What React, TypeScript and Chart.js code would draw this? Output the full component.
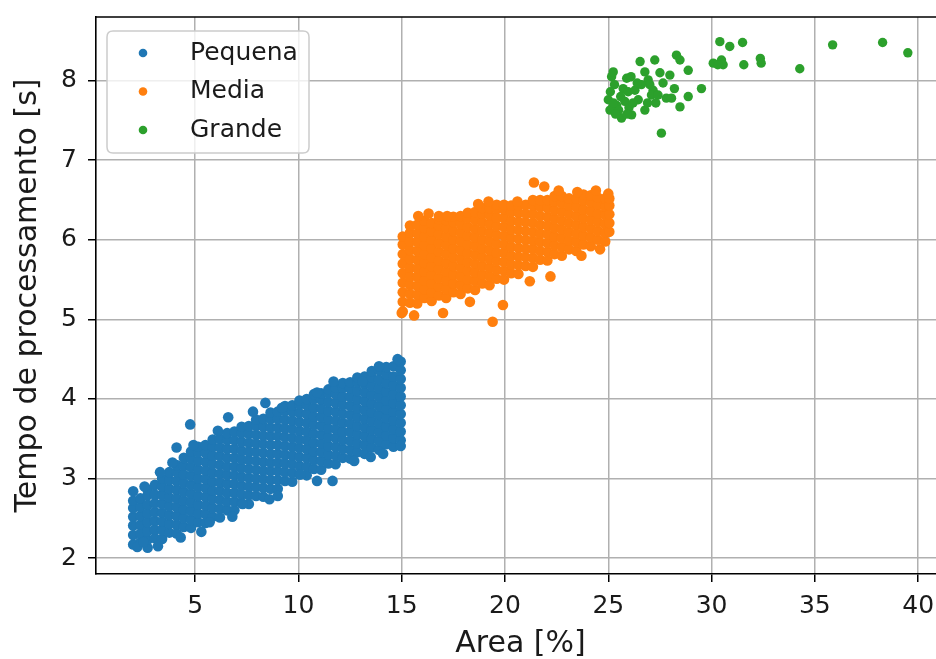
import React, { useEffect, useRef } from "react";
import { Chart, registerables } from "chart.js";

Chart.register(...registerables);

const seriesLabels = ["Pequena", "Media", "Grande"];
const seriesColors = ["#1f77b4", "#ff7f0e", "#2ca02c"];
const seriesRadius = [5.3, 5.3, 4.7];
const xTicks = [5, 10, 15, 20, 25, 30, 35, 40];
const yTicks = [2, 3, 4, 5, 6, 7, 8];
const xLabel = "Area [%]";
const yLabel = "Tempo de processamento [s]";

// Pequena: [area, tempos read at that area]
const pequenaCols: [number, number[]][] = [
  [2.0, [2.17, 2.29, 2.41, 2.52, 2.63, 2.72]],
  [2.35, [2.2, 2.31, 2.42, 2.53, 2.64, 2.75]],
  [2.7, [2.13, 2.23, 2.34, 2.45, 2.56, 2.67, 2.79, 2.86]],
  [3.05, [2.25, 2.36, 2.47, 2.58, 2.69, 2.8, 2.92]],
  [3.4, [2.24, 2.35, 2.46, 2.57, 2.68, 2.79, 2.9, 3.0]],
  [3.75, [2.32, 2.43, 2.54, 2.65, 2.76, 2.87, 2.98, 3.08]],
  [4.1, [2.31, 2.42, 2.53, 2.64, 2.75, 2.86, 2.97, 3.08, 3.17]],
  [4.45, [2.39, 2.5, 2.61, 2.72, 2.83, 2.94, 3.05, 3.16, 3.26]],
  [4.8, [2.38, 2.48, 2.59, 2.7, 2.81, 2.92, 3.03, 3.14, 3.25, 3.34]],
  [5.15, [2.45, 2.56, 2.67, 2.78, 2.89, 3.0, 3.11, 3.22, 3.33, 3.4]],
  [5.5, [2.44, 2.55, 2.66, 2.77, 2.88, 2.99, 3.1, 3.21, 3.32, 3.42]],
  [5.85, [2.52, 2.63, 2.74, 2.85, 2.96, 3.07, 3.18, 3.29, 3.4, 3.49]],
  [6.2, [2.51, 2.62, 2.73, 2.84, 2.95, 3.06, 3.17, 3.28, 3.39, 3.5]],
  [6.55, [2.6, 2.71, 2.82, 2.93, 3.04, 3.15, 3.26, 3.37, 3.48, 3.57]],
  [6.9, [2.6, 2.71, 2.82, 2.93, 3.04, 3.15, 3.26, 3.37, 3.48, 3.59]],
  [7.25, [2.69, 2.8, 2.91, 3.02, 3.13, 3.24, 3.35, 3.46, 3.57, 3.65]],
  [7.6, [2.68, 2.79, 2.9, 3.01, 3.12, 3.23, 3.34, 3.45, 3.56, 3.66]],
  [7.95, [2.78, 2.89, 3.0, 3.11, 3.22, 3.33, 3.44, 3.55, 3.66, 3.74]],
  [8.3, [2.77, 2.88, 2.99, 3.1, 3.21, 3.32, 3.43, 3.54, 3.65, 3.75]],
  [8.65, [2.87, 2.98, 3.09, 3.2, 3.31, 3.42, 3.53, 3.64, 3.75, 3.83]],
  [9.0, [2.87, 2.98, 3.09, 3.2, 3.31, 3.42, 3.53, 3.64, 3.75, 3.84]],
  [9.35, [2.97, 3.08, 3.19, 3.3, 3.41, 3.52, 3.63, 3.74, 3.85, 3.91]],
  [9.7, [2.96, 3.07, 3.18, 3.29, 3.4, 3.51, 3.62, 3.73, 3.84, 3.92]],
  [10.05, [3.05, 3.16, 3.27, 3.38, 3.49, 3.6, 3.71, 3.82, 3.93, 3.98]],
  [10.4, [3.04, 3.15, 3.26, 3.37, 3.48, 3.59, 3.7, 3.81, 3.92, 4.0]],
  [10.75, [3.12, 3.23, 3.34, 3.45, 3.56, 3.67, 3.78, 3.89, 4.0, 4.06]],
  [11.1, [3.11, 3.22, 3.33, 3.44, 3.55, 3.66, 3.77, 3.88, 3.99, 4.07]],
  [11.45, [3.19, 3.3, 3.41, 3.52, 3.63, 3.74, 3.85, 3.96, 4.07, 4.12]],
  [11.8, [3.18, 3.29, 3.4, 3.51, 3.62, 3.73, 3.84, 3.95, 4.06, 4.14]],
  [12.15, [3.26, 3.37, 3.48, 3.59, 3.7, 3.81, 3.92, 4.03, 4.14, 4.2]],
  [12.5, [3.25, 3.36, 3.47, 3.58, 3.69, 3.8, 3.91, 4.02, 4.13, 4.21]],
  [12.85, [3.33, 3.44, 3.55, 3.66, 3.77, 3.88, 3.99, 4.1, 4.21, 4.27]],
  [13.2, [3.31, 3.42, 3.53, 3.64, 3.75, 3.86, 3.97, 4.08, 4.19, 4.28]],
  [13.55, [3.39, 3.5, 3.61, 3.72, 3.83, 3.94, 4.05, 4.16, 4.27, 4.35]],
  [13.9, [3.36, 3.47, 3.58, 3.69, 3.8, 3.91, 4.02, 4.13, 4.24, 4.36]],
  [14.25, [3.43, 3.54, 3.65, 3.76, 3.87, 3.98, 4.09, 4.2, 4.31, 4.4]],
  [14.6, [3.4, 3.51, 3.62, 3.73, 3.84, 3.95, 4.06, 4.17, 4.28, 4.41]],
  [14.95, [3.48, 3.59, 3.7, 3.81, 3.92, 4.03, 4.14, 4.25, 4.36, 4.47]],
];
const pequenaExtra: [number, number][] = [
  [2.0, 2.84], [2.55, 2.9], [3.3, 3.08], [3.9, 3.2], [4.1, 3.39], [4.76, 3.68],
  [4.92, 3.42], [6.1, 3.6], [6.6, 3.77], [7.8, 3.84], [8.4, 3.95], [9.2, 3.89],
  [10.9, 4.08], [11.7, 4.22], [13.1, 4.22], [13.9, 4.41], [14.8, 4.5],
  [3.2, 2.15], [4.3, 2.26], [5.3, 2.33], [5.7, 2.45], [6.8, 2.52], [7.3, 2.68],
  [8.6, 2.74], [9.0, 2.78], [10.1, 3.05], [10.9, 2.97], [11.65, 2.97], [12.7, 3.22],
  [13.5, 3.27], [14.1, 3.31], [2.2, 2.14], [2.5, 2.2], [14.95, 3.41],
];

// Media
const mediaCols: [number, number[]][] = [
  [15.05, [5.1, 5.22, 5.34, 5.46, 5.58, 5.7, 5.82, 5.94, 6.04]],
  [15.4, [5.21, 5.32, 5.43, 5.54, 5.65, 5.76, 5.87, 5.98, 6.09, 6.18]],
  [15.75, [5.2, 5.31, 5.42, 5.53, 5.64, 5.75, 5.86, 5.97, 6.08, 6.19]],
  [16.1, [5.27, 5.38, 5.49, 5.6, 5.71, 5.82, 5.93, 6.04, 6.15, 6.24]],
  [16.45, [5.23, 5.34, 5.45, 5.56, 5.67, 5.78, 5.89, 6.0, 6.11, 6.21]],
  [16.8, [5.3, 5.41, 5.52, 5.63, 5.74, 5.85, 5.96, 6.07, 6.18, 6.26]],
  [17.15, [5.27, 5.38, 5.49, 5.6, 5.71, 5.82, 5.93, 6.04, 6.15, 6.25]],
  [17.5, [5.34, 5.45, 5.56, 5.67, 5.78, 5.89, 6.0, 6.11, 6.22, 6.29]],
  [17.85, [5.32, 5.43, 5.54, 5.65, 5.76, 5.87, 5.98, 6.09, 6.2, 6.3]],
  [18.2, [5.39, 5.5, 5.61, 5.72, 5.83, 5.94, 6.05, 6.16, 6.27, 6.34]],
  [18.55, [5.37, 5.48, 5.59, 5.7, 5.81, 5.92, 6.03, 6.14, 6.25, 6.35]],
  [18.9, [5.45, 5.56, 5.67, 5.78, 5.89, 6.0, 6.11, 6.22, 6.33, 6.4]],
  [19.25, [5.43, 5.54, 5.65, 5.76, 5.87, 5.98, 6.09, 6.2, 6.31, 6.4]],
  [19.6, [5.51, 5.62, 5.73, 5.84, 5.95, 6.06, 6.17, 6.28, 6.39, 6.44]],
  [19.95, [5.5, 5.61, 5.72, 5.83, 5.94, 6.05, 6.16, 6.27, 6.38, 6.44]],
  [20.3, [5.58, 5.69, 5.8, 5.91, 6.02, 6.13, 6.24, 6.35, 6.43]],
  [20.65, [5.57, 5.68, 5.79, 5.9, 6.01, 6.12, 6.23, 6.34, 6.43]],
  [21.0, [5.67, 5.78, 5.89, 6.0, 6.11, 6.22, 6.33, 6.44]],
  [21.35, [5.66, 5.77, 5.88, 5.99, 6.1, 6.21, 6.32, 6.43, 6.5]],
  [21.7, [5.75, 5.86, 5.97, 6.08, 6.19, 6.3, 6.41, 6.5]],
  [22.05, [5.74, 5.85, 5.96, 6.07, 6.18, 6.29, 6.4, 6.5]],
  [22.4, [5.82, 5.93, 6.04, 6.15, 6.26, 6.37, 6.48, 6.55]],
  [22.75, [5.8, 5.91, 6.02, 6.13, 6.24, 6.35, 6.46, 6.55]],
  [23.1, [5.88, 5.99, 6.1, 6.21, 6.32, 6.43, 6.52]],
  [23.45, [5.86, 5.97, 6.08, 6.19, 6.3, 6.41, 6.52]],
  [23.8, [5.94, 6.05, 6.16, 6.27, 6.38, 6.49, 6.57]],
  [24.15, [5.92, 6.03, 6.14, 6.25, 6.36, 6.47, 6.56]],
  [24.5, [6.0, 6.11, 6.22, 6.33, 6.44, 6.53]],
  [24.85, [5.98, 6.09, 6.2, 6.31, 6.42, 6.52]],
  [25.05, [6.1, 6.21, 6.32, 6.43, 6.52]],
];
const mediaExtra: [number, number][] = [
  [15.0, 5.08], [15.6, 5.05], [17.0, 5.08], [19.4, 4.97], [19.9, 5.18], [22.2, 5.54],
  [18.3, 5.22], [21.2, 5.48], [15.8, 6.3], [16.3, 6.33], [16.8, 6.3], [17.2, 6.3],
  [18.7, 6.45], [19.2, 6.48], [20.6, 6.48], [21.4, 6.72], [21.9, 6.67], [22.6, 6.62],
  [23.5, 6.6], [24.4, 6.62], [25.0, 6.58], [23.7, 5.8], [24.6, 5.88],
];

// Grande
const grande: [number, number][] = [
  [25.0, 7.76], [25.08, 7.63], [25.16, 8.05], [25.24, 8.11], [25.4, 7.69], [25.64, 7.53],
  [25.89, 8.03], [25.72, 7.9], [25.96, 7.86], [25.8, 7.74], [26.13, 7.57], [26.29, 7.88],
  [26.45, 7.76], [26.54, 8.24], [26.77, 8.11], [26.77, 7.63], [26.93, 8.01], [27.01, 7.95],
  [27.17, 7.88], [27.25, 8.26], [27.09, 7.82], [27.41, 7.82], [27.57, 7.34], [27.65, 7.97],
  [27.81, 7.78], [27.98, 8.07], [28.06, 7.78], [28.3, 8.32], [28.47, 8.26], [28.47, 7.67],
  [28.87, 8.13], [28.87, 7.8], [29.51, 7.9], [30.08, 8.22], [30.4, 8.49], [30.48, 8.26],
  [30.56, 8.2], [30.88, 8.43], [30.3, 8.2], [31.5, 8.48], [31.56, 8.2], [32.36, 8.28],
  [32.4, 8.22], [34.27, 8.15], [35.86, 8.45], [38.28, 8.48], [39.5, 8.35],
  [25.2, 7.66], [25.5, 7.63], [25.35, 7.58], [25.6, 7.8], [26.0, 7.66], [25.25, 7.72],
  [26.6, 7.95], [26.2, 7.72], [27.3, 7.72], [25.9, 7.58], [25.3, 7.95], [26.1, 8.05],
  [26.4, 7.97], [26.9, 7.72], [27.5, 8.1], [28.2, 7.9], [25.1, 7.86],
];

const FONT = "'DejaVu Sans', sans-serif";
const TEXT = "#1a1a1a";

function colsToPoints(cols: [number, number[]][], extra: [number, number][]) {
  const pts = cols.flatMap(([x, ys]) => ys.map((y) => ({ x, y })));
  return pts.concat(extra.map(([x, y]) => ({ x, y })));
}

const overlayPlugin = {
  id: "overlay",
  afterDatasetsDraw(chart: any) {
    const { ctx, chartArea: a } = chart;
    ctx.save();
    // top & right spines
    ctx.strokeStyle = "#000";
    ctx.lineWidth = 1.6;
    ctx.beginPath();
    ctx.moveTo(a.left, a.top);
    ctx.lineTo(a.right, a.top);
    ctx.lineTo(a.right, a.bottom);
    ctx.stroke();

    // legend
    const bx = a.left + 11;
    const by = a.top + 14;
    const bw = 202;
    const bh = 122;
    const r = 6;
    ctx.beginPath();
    ctx.moveTo(bx + r, by);
    ctx.lineTo(bx + bw - r, by);
    ctx.quadraticCurveTo(bx + bw, by, bx + bw, by + r);
    ctx.lineTo(bx + bw, by + bh - r);
    ctx.quadraticCurveTo(bx + bw, by + bh, bx + bw - r, by + bh);
    ctx.lineTo(bx + r, by + bh);
    ctx.quadraticCurveTo(bx, by + bh, bx, by + bh - r);
    ctx.lineTo(bx, by + r);
    ctx.quadraticCurveTo(bx, by, bx + r, by);
    ctx.closePath();
    ctx.fillStyle = "rgba(255,255,255,0.8)";
    ctx.fill();
    ctx.strokeStyle = "#cccccc";
    ctx.lineWidth = 1.5;
    ctx.stroke();

    ctx.font = `25px ${FONT}`;
    ctx.textBaseline = "middle";
    ctx.textAlign = "left";
    chart.data.datasets.forEach((ds: any, i: number) => {
      const cy = by + 22 + i * 38.5;
      ctx.beginPath();
      ctx.arc(bx + 36, cy, 4.3, 0, Math.PI * 2);
      ctx.fillStyle = ds.backgroundColor;
      ctx.fill();
      ctx.fillStyle = TEXT;
      ctx.fillText(ds.label, bx + 83, cy);
    });
    ctx.restore();
  },
};

const gridOpts = {
  drawOnChartArea: true,
  color: "#b0b0b0",
  lineWidth: 1.5,
  tickColor: "#000",
  tickLength: 8,
  tickWidth: 1.5,
};

export default function App() {
  const ref = useRef<HTMLCanvasElement | null>(null);

  useEffect(() => {
    if (!ref.current) return;
    const seriesData = [
      colsToPoints(pequenaCols, pequenaExtra),
      colsToPoints(mediaCols, mediaExtra),
      grande.map(([x, y]) => ({ x, y })),
    ];
    const chart = new Chart(ref.current, {
      type: "scatter",
      data: {
        datasets: seriesData.map((d, i) => ({
          label: seriesLabels[i],
          data: d,
          backgroundColor: seriesColors[i],
          borderColor: seriesColors[i],
          pointRadius: seriesRadius[i],
          pointBorderWidth: 0,
          pointHoverRadius: seriesRadius[i],
        })),
      },
      options: {
        responsive: false,
        animation: false,
        devicePixelRatio: 1,
        layout: { padding: { top: 17, right: 15, left: 0, bottom: 0 } },
        plugins: { legend: { display: false }, tooltip: { enabled: false } },
        scales: {
          x: {
            type: "linear",
            min: 0.2,
            max: 41.3,
            afterBuildTicks: (s: any) => {
              s.ticks = xTicks.map((v) => ({ value: v }));
            },
            afterFit: (s: any) => {
              s.height = 85;
              s.paddingLeft = 0;
              s.paddingRight = 0;
            },
            grid: gridOpts,
            border: { display: true, color: "#000", width: 1.6 },
            ticks: {
              font: { family: FONT, size: 25 },
              color: TEXT,
              padding: 9,
              maxRotation: 0,
              autoSkip: false,
              callback: (v: any) => String(v),
            },
            title: {
              display: true,
              text: xLabel,
              font: { family: FONT, size: 30, lineHeight: 1 },
              color: TEXT,
              padding: { top: 0, bottom: 0 },
            },
          },
          y: {
            type: "linear",
            min: 1.8,
            max: 8.8,
            afterBuildTicks: (s: any) => {
              s.ticks = yTicks.map((v) => ({ value: v }));
            },
            afterFit: (s: any) => {
              s.width = 96;
              s.paddingTop = 0;
              s.paddingBottom = 0;
            },
            grid: gridOpts,
            border: { display: true, color: "#000", width: 1.6 },
            ticks: {
              font: { family: FONT, size: 25 },
              color: TEXT,
              padding: 11,
              autoSkip: false,
              callback: (v: any) => String(v),
            },
            title: {
              display: true,
              text: yLabel,
              font: { family: FONT, size: 30, lineHeight: 1 },
              color: TEXT,
              padding: { top: 13, bottom: 0 },
            },
          },
        },
      },
      plugins: [overlayPlugin],
    });
    return () => chart.destroy();
  }, []);

  return (
    <div
      style={{
        position: "fixed",
        left: 0,
        top: 0,
        width: 936,
        height: 659,
        overflow: "hidden",
        background: "#fff",
      }}
    >
      <canvas ref={ref} width={960} height={659} style={{ display: "block" }} />
    </div>
  );
}
